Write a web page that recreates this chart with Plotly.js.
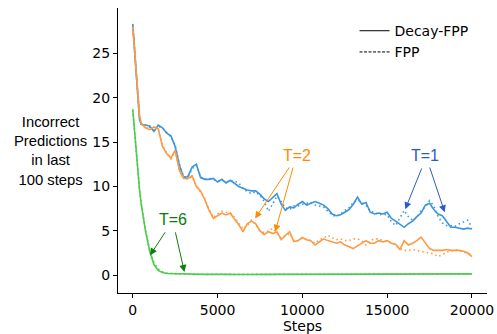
<!DOCTYPE html>
<html>
<head>
<meta charset="utf-8">
<script src="https://cdn.plot.ly/plotly-3.0.1.min.js"></script>
<style>html,body{margin:0;padding:0;background:#fff;}#chart{width:497px;height:334px;}</style>
</head>
<body>
<div id="chart"></div>
<script>
const steps = [0,100,200,300,400,500,750,1000,1250,1500,1750,2000,2250,2500,2750,3000,3250,3500,3750,4000,4250,4500,4750,5000,5250,5500,5750,6000,6250,6500,6750,7000,7250,7500,7750,8000,8250,8500,8750,9000,9250,9500,9750,10000,10250,10500,10750,11000,11250,11500,11750,12000,12250,12500,12750,13000,13250,13500,13750,14000,14250,14500,14750,15000,15250,15500,15750,16000,16250,16500,16750,17000,17250,17500,17750,18000,18250,18500,18750,19000,19250,19500,19750,20000];

const blueDecay = [28.3,25.6,22.9,20.2,17.5,17.0,16.9,16.8,16.2,16.9,16.6,16.0,15.7,14.5,12.4,11.0,11.1,12.2,12.5,11.0,10.8,10.8,10.9,10.5,10.8,10.4,10.7,10.3,10.0,9.8,9.6,9.5,9.5,9.1,8.6,8.3,8.8,9.2,8.0,7.3,7.7,7.6,8.0,8.3,7.9,8.1,8.3,8.1,7.9,7.5,6.9,6.7,6.8,7.1,7.4,8.0,8.8,8.0,8.2,7.1,6.9,7.0,6.9,7.1,6.4,6.1,5.8,5.4,5.8,6.1,6.6,7.0,7.9,8.1,7.4,6.9,6.7,6.0,5.4,5.4,5.3,5.2,5.3,5.2];
const blueFPP = [28.2,25.5,22.8,20.1,17.6,17.0,16.9,16.7,16.3,16.8,16.6,16.1,15.6,14.6,12.5,11.1,11.1,12.0,12.4,11.1,10.8,10.9,10.8,10.6,10.7,10.5,10.6,10.6,10.4,9.8,9.4,9.2,9.4,9.0,8.3,7.2,8.1,8.9,8.3,7.6,7.4,7.8,7.8,8.0,8.1,8.2,7.9,7.8,7.7,7.2,6.8,6.6,6.9,7.3,7.6,8.2,8.5,8.2,7.9,7.2,7.1,6.8,6.9,6.8,6.0,5.6,6.4,7.3,6.6,6.2,6.5,7.3,7.7,8.4,7.8,6.6,5.9,5.6,5.6,5.5,5.8,6.0,6.2,5.4];

const orangeDecay = [28.0,25.5,23.0,20.5,18.0,17.1,16.6,16.4,16.7,16.5,14.5,13.7,13.2,14.1,11.8,10.9,10.9,11.2,10.0,9.5,8.5,7.3,6.4,6.7,7.0,6.8,7.0,6.3,5.7,4.9,5.8,6.1,5.8,5.0,4.6,4.9,4.7,4.9,4.0,4.5,4.9,3.8,3.9,4.25,4.0,3.9,3.4,3.75,4.1,3.9,3.75,3.6,3.75,3.4,3.2,3.0,3.3,3.6,3.9,3.6,3.6,3.9,3.75,3.9,3.6,3.5,2.9,3.9,3.4,3.6,3.9,4.3,3.6,3.0,2.8,2.8,2.8,2.9,2.8,2.8,2.8,2.7,2.5,2.1];
const orangeFPP = [27.9,25.4,22.9,20.4,18.0,17.1,16.7,16.4,16.6,16.5,14.7,13.8,13.1,14.0,11.9,11.0,10.8,11.1,10.1,9.4,8.6,7.4,6.5,6.9,7.2,7.1,7.0,6.5,5.9,5.2,5.6,6.2,5.7,5.0,4.8,5.0,5.3,4.7,4.2,4.4,4.7,3.9,3.9,4.2,4.0,3.9,3.6,4.0,4.2,4.5,4.2,4.0,4.1,3.9,3.9,4.1,4.1,3.9,3.4,3.9,4.1,4.1,3.9,3.8,3.7,3.4,3.0,2.8,2.8,2.9,2.8,2.7,2.6,2.5,2.4,2.1,2.3,2.6,2.7,2.9,2.8,2.6,2.5,2.3];

const greenDecay = [18.7,16.3,13.9,11.6,9.6,8.0,5.0,2.7,1.2,0.55,0.3,0.2,0.18,0.15,0.13,0.12,0.1,0.11,0.1,0.09,0.1,0.12,0.1,0.08,0.1,0.11,0.1,0.09,0.1,0.1,0.11,0.1,0.08,0.1,0.1,0.09,0.1,0.11,0.1,0.1,0.09,0.1,0.1,0.11,0.1,0.09,0.1,0.1,0.1,0.11,0.1,0.09,0.1,0.1,0.08,0.1,0.1,0.11,0.1,0.1,0.09,0.1,0.1,0.1,0.11,0.1,0.1,0.09,0.1,0.1,0.1,0.11,0.1,0.1,0.09,0.1,0.1,0.1,0.11,0.1,0.1,0.1,0.12,0.15];
const greenFPP = [18.6,16.2,13.8,11.6,9.7,8.1,5.1,2.8,1.4,0.7,0.4,0.25,0.2,0.16,0.14,0.12,0.12,0.1,0.11,0.1,0.1,0.1,0.11,0.1,0.09,0.1,0.1,0.1,0.11,0.1,0.1,0.09,0.1,0.1,0.11,0.1,0.1,0.1,0.09,0.1,0.1,0.11,0.1,0.1,0.1,0.1,0.09,0.1,0.11,0.1,0.1,0.1,0.1,0.09,0.1,0.1,0.11,0.1,0.1,0.1,0.1,0.09,0.1,0.11,0.1,0.1,0.1,0.1,0.09,0.1,0.1,0.11,0.1,0.1,0.1,0.1,0.09,0.1,0.1,0.1,0.11,0.1,0.12,0.14];

const xTicks = [0,5000,10000,15000,20000];
const yTicks = [0,5,10,15,20,25];
const legendNames = ['Decay-FPP','FPP'];

const BLUE = '#3a96dd', ORANGE = '#fd9a44', GREEN = '#4ccc4c';
const DOT = '1.5px,3px';

function tr(y, color, dash) {
  return {x: steps, y: y, type: 'scatter', mode: 'lines', showlegend: false,
    hoverinfo: 'skip', line: {color: color, width: 1.6, dash: dash}};
}

const data = [
  tr(blueDecay, BLUE, 'solid'), tr(blueFPP, BLUE, DOT),
  tr(orangeDecay, ORANGE, 'solid'), tr(orangeFPP, ORANGE, DOT),
  tr(greenDecay, GREEN, 'solid'), tr(greenFPP, GREEN, DOT),
  {x: [null], y: [null], type: 'scatter', mode: 'lines', name: legendNames[0], line: {color: '#000', width: 1}},
  {x: [null], y: [null], type: 'scatter', mode: 'lines', name: legendNames[1], line: {color: '#000', width: 1, dash: '3px,1.5px'}}
];

const AF = 'Liberation Sans, Arial, sans-serif';
function label(text, x, y, color) {
  return {text: text, x: x, y: y, xref: 'x', yref: 'y', showarrow: false,
    xanchor: 'center', yanchor: 'middle',
    font: {family: AF, size: 16, color: color}};
}
function arrow(x, y, ax, ay, color) {
  return {text: '', x: x, y: y, ax: ax, ay: ay, xref: 'x', yref: 'y', axref: 'x', ayref: 'y',
    showarrow: true, arrowhead: 2, arrowsize: 1.4, arrowwidth: 1, arrowcolor: color, standoff: 0, startstandoff: 0};
}
const C1 = '#2b5bc6', C2 = '#ff8c00', C6 = '#0a7d0a';

const layout = {
  width: 497, height: 334,
  margin: {l: 118, r: 10, t: 8, b: 41},
  paper_bgcolor: '#fff', plot_bgcolor: '#fff',
  font: {family: 'DejaVu Sans, sans-serif', size: 14, color: '#000'},
  xaxis: {range: [-870, 20885], tickvals: xTicks, ticktext: xTicks.map(String),
    showgrid: false, zeroline: false, showline: true, linecolor: '#000', linewidth: 1,
    ticks: 'outside', ticklen: 4, tickwidth: 1, tickcolor: '#000',
    title: {text: 'Steps', standoff: 5, font: {size: 14}}, automargin: false},
  yaxis: {range: [-2.0, 30.1], tickvals: yTicks, ticktext: yTicks.map(String),
    showgrid: false, zeroline: false, showline: true, linecolor: '#000', linewidth: 1,
    ticks: 'outside', ticklen: 4, tickwidth: 1, tickcolor: '#000', automargin: false},
  showlegend: true,
  legend: {x: 0.641, y: 0.975, xanchor: 'left', yanchor: 'top', bgcolor: 'rgba(0,0,0,0)',
    font: {size: 14}, itemwidth: 30},
  annotations: [
    {text: 'Incorrect<br>Predictions<br>in last<br>100 steps', xref: 'paper', yref: 'paper',
      x: -0.184, y: 0.498, xanchor: 'center', yanchor: 'middle', showarrow: false, align: 'center',
      font: {family: AF, size: 14.8, color: '#000'}},
    label('T=1', 17245, 13.5, C1),
    arrow(16065, 7.44, 17070, 12.2, C1),
    arrow(18390, 7.1, 17480, 12.3, C1),
    label('T=2', 9675, 13.5, C2),
    arrow(7215, 6.4, 9280, 12.3, C2),
    arrow(8395, 4.9, 9475, 12.3, C2),
    label('T=6', 2360, 6.3, C6),
    arrow(1020, 2.25, 1965, 5.0, C6),
    arrow(3045, 0.37, 2495, 5.0, C6)
  ]
};

Plotly.newPlot('chart', data, layout, {staticPlot: true, displayModeBar: false});
</script>
</body>
</html>
